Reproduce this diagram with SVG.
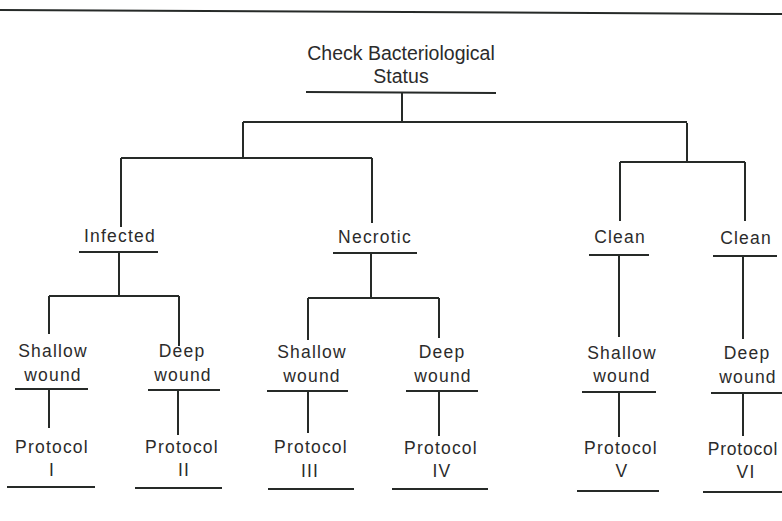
<svg xmlns="http://www.w3.org/2000/svg" width="782" height="521" viewBox="0 0 782 521">
<style>
  .t { font-family: "Liberation Sans", Arial, sans-serif; font-size: 17.5px; letter-spacing: 1.2px; fill: #2b2b2b; text-anchor: middle; }
  .title { font-family: "Liberation Sans", Arial, sans-serif; font-size: 19.5px; fill: #2b2b2b; text-anchor: middle; }
  .u { stroke: #262a28; stroke-width: 2; fill: none; }
  .c { stroke: #262a28; stroke-width: 2; fill: none; }
</style>
<rect width="782" height="521" fill="#ffffff"/>
<line class="u" x1="0" y1="10" x2="782" y2="14"/>

<g id="root">
  <text class="title" x="401" y="60">Check Bacteriological</text>
  <text class="title" x="401" y="83">Status</text>
  <line class="u" x1="306" y1="92" x2="496" y2="93"/>
</g>

<g id="infected">
  <text class="t" x="120" y="242">Infected</text>
  <line class="u" x1="79" y1="252" x2="158" y2="252"/>
</g>
<g id="necrotic">
  <text class="t" x="375" y="243">Necrotic</text>
  <line class="u" x1="333" y1="253" x2="417" y2="253"/>
</g>
<g id="clean1">
  <text class="t" x="620" y="243">Clean</text>
  <line class="u" x1="589" y1="255" x2="649" y2="255"/>
</g>
<g id="clean2">
  <text class="t" x="746" y="244">Clean</text>
  <line class="u" x1="713" y1="256" x2="777" y2="256"/>
</g>

<g id="shallow1">
  <text class="t" x="53" y="357">Shallow</text>
  <text class="t" x="53" y="381">wound</text>
  <line class="u" x1="15" y1="389" x2="88" y2="389"/>
</g>
<g id="deep2">
  <text class="t" x="182" y="357">Deep</text>
  <text class="t" x="183" y="381">wound</text>
  <line class="u" x1="148" y1="390" x2="220" y2="390"/>
</g>
<g id="shallow3">
  <text class="t" x="312" y="358">Shallow</text>
  <text class="t" x="312" y="382">wound</text>
  <line class="u" x1="267" y1="391" x2="348" y2="391"/>
</g>
<g id="deep4">
  <text class="t" x="442" y="358">Deep</text>
  <text class="t" x="443" y="382">wound</text>
  <line class="u" x1="406" y1="391" x2="478" y2="391"/>
</g>
<g id="shallow5">
  <text class="t" x="622" y="359">Shallow</text>
  <text class="t" x="622" y="382">wound</text>
  <line class="u" x1="582" y1="392" x2="656" y2="392"/>
</g>
<g id="deep6">
  <text class="t" x="747" y="359">Deep</text>
  <text class="t" x="748" y="383">wound</text>
  <line class="u" x1="711" y1="393" x2="782" y2="393"/>
</g>

<g id="protocol1">
  <text class="t" x="52" y="453">Protocol</text>
  <text class="t" x="52" y="476">I</text>
  <line class="u" x1="7" y1="487" x2="95" y2="487"/>
</g>
<g id="protocol2">
  <text class="t" x="182" y="453">Protocol</text>
  <text class="t" x="184" y="476">II</text>
  <line class="u" x1="135" y1="488" x2="222" y2="488"/>
</g>
<g id="protocol3">
  <text class="t" x="311" y="453">Protocol</text>
  <text class="t" x="310" y="477">III</text>
  <line class="u" x1="268" y1="489" x2="354" y2="489"/>
</g>
<g id="protocol4">
  <text class="t" x="441" y="454">Protocol</text>
  <text class="t" x="442" y="477">IV</text>
  <line class="u" x1="392" y1="489" x2="488" y2="489"/>
</g>
<g id="protocol5">
  <text class="t" x="621" y="454">Protocol</text>
  <text class="t" x="622" y="477">V</text>
  <line class="u" x1="577" y1="491" x2="659" y2="491"/>
</g>
<g id="protocol6">
  <text class="t" x="743" y="455" style="letter-spacing:0.8px">Protocol</text>
  <text class="t" x="746" y="478">VI</text>
  <line class="u" x1="703" y1="492" x2="782" y2="492"/>
</g>

<g id="connectors">
  <path class="c" d="M402,92 V123 M243,122 H687 M243,122 V158 M121,158 H372 M121,158 V227 M372,158 V223"/>
  <path class="c" d="M687,123 V162 M620,162 H745 M620,162 V221 M745,162 V221"/>
  <path class="c" d="M119,252 V296 M49,296 H179 M49,296 V334 M179,296 V346"/>
  <path class="c" d="M371,253 V298 M308,298 H439 M308,298 V340 M439,298 V338"/>
  <path class="c" d="M619,255 V337 M743,256 V339"/>
  <path class="c" d="M49,389 V428 M178,390 V435 M308,391 V433 M439,391 V436 M619,392 V437 M743,393 V436"/>
</g>
</svg>
